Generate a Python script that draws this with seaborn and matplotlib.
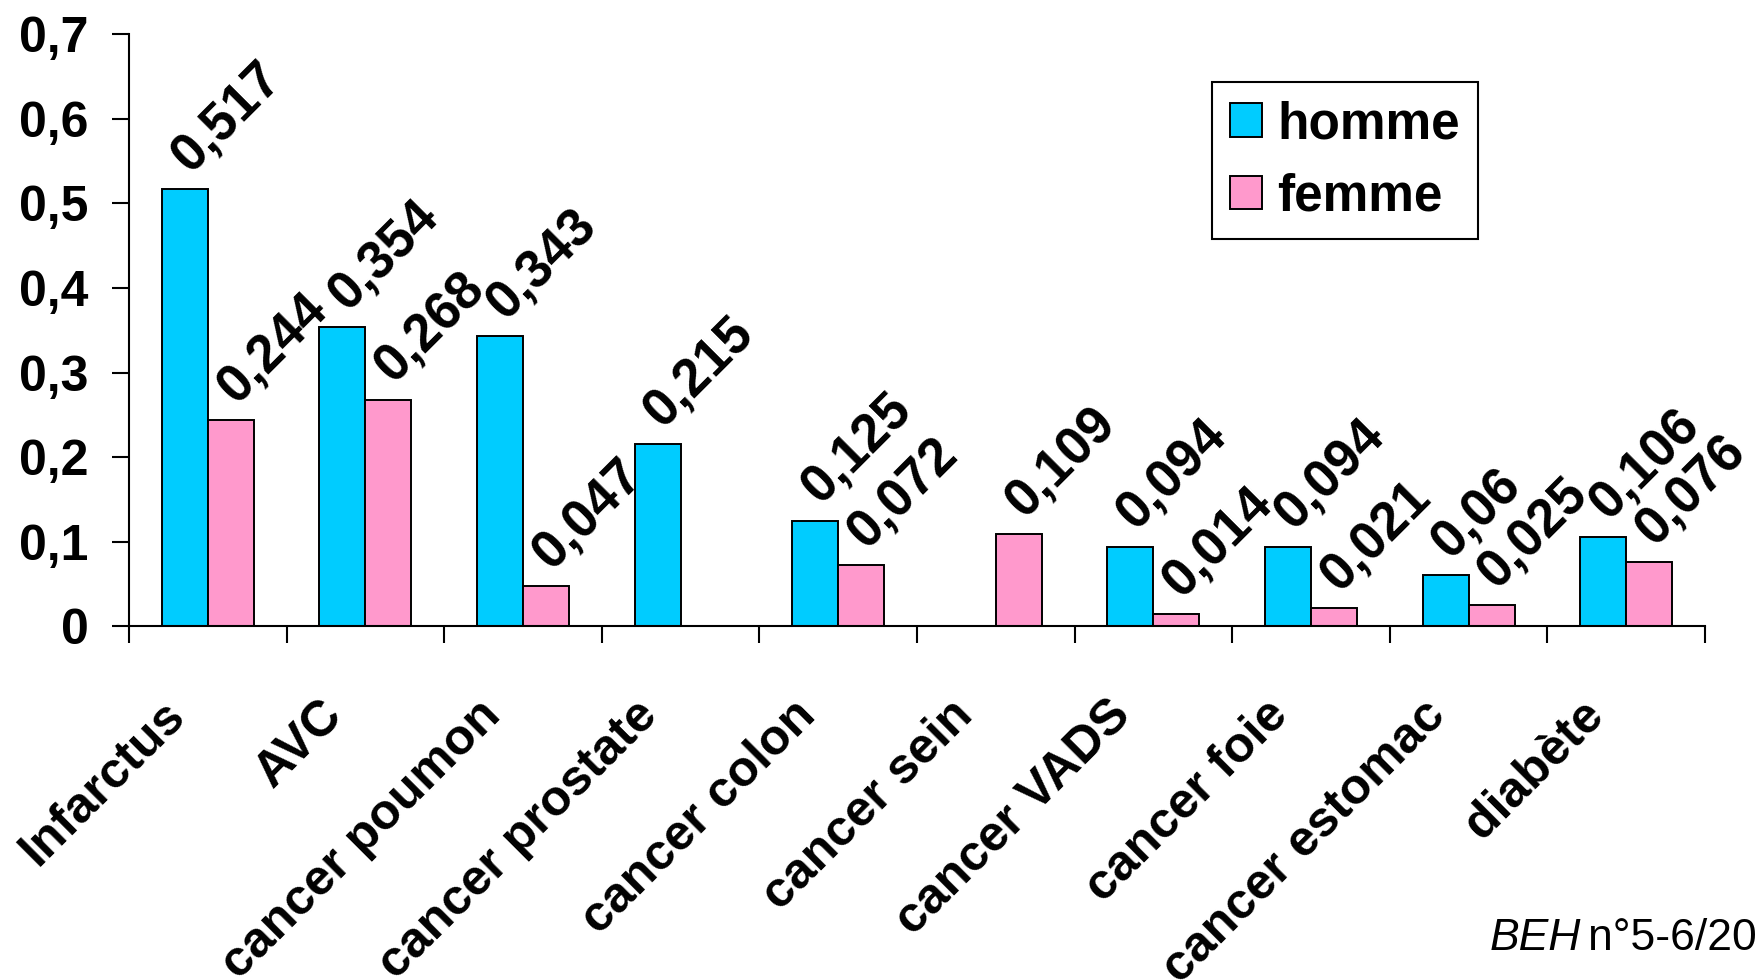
import pandas as pd
import seaborn as sns
import matplotlib.pyplot as plt
import matplotlib.transforms as mtransforms

# data
causes = ["Infarctus", "AVC", "cancer poumon", "cancer prostate", "cancer colon",
          "cancer sein", "cancer VADS", "cancer foie", "cancer estomac", "diabète"]
homme = [0.517, 0.354, 0.343, 0.215, 0.125, None, 0.094, 0.094, 0.06, 0.106]
femme = [0.244, 0.268, 0.047, None, 0.072, 0.109, 0.014, 0.021, 0.025, 0.076]
sexes = ["homme", "femme"]
couleurs = {"homme": "#00CCFF", "femme": "#FF99CC"}
y_ticks = [0, 0.1, 0.2, 0.3, 0.4, 0.5, 0.6, 0.7]

df = pd.DataFrame({
    "cause": causes * 2,
    "sexe": ["homme"] * len(causes) + ["femme"] * len(causes),
    "valeur": homme + femme,
})
df["valeur"] = df["valeur"].astype(float)

sns.set_style("ticks")
plt.rcParams["font.family"] = ["Liberation Sans", "DejaVu Sans"]
plt.rcParams["font.weight"] = "bold"
plt.rcParams["text.color"] = "black"
plt.rcParams["xtick.color"] = "black"
plt.rcParams["ytick.color"] = "black"

fig = plt.figure(figsize=(17.56, 9.8), dpi=100)
ax = fig.add_axes([0.0735, 0.361, 0.8975, 0.604])

sns.barplot(
    data=df,
    x="cause",
    y="valeur",
    hue="sexe",
    order=causes,
    hue_order=sexes,
    palette=couleurs,
    saturation=1,
    width=0.584,
    edgecolor="black",
    linewidth=1.4,
    errorbar=None,
    ax=ax,
)

# value labels, rotated like the original
for cont in ax.containers:
    for bar in cont:
        h = bar.get_height()
        if h != h or h == 0:
            continue
        txt = ("%g" % h).replace(".", ",")
        ax.annotate(
            txt,
            (bar.get_x() + bar.get_width() / 2, h),
            xytext=(4, 11),
            textcoords="offset points",
            rotation=45,
            rotation_mode="anchor",
            ha="left",
            va="baseline",
            fontsize=38,
            fontweight="bold",
            color="black",
        )

ax.set_ylim(0, 0.7)
ax.set_xlim(-0.5, len(causes) - 0.5)
ax.set_yticks(y_ticks)
ax.set_yticklabels(["0"] + [("%g" % t).replace(".", ",") for t in y_ticks[1:]],
                   fontsize=36, fontweight="bold")
ax.tick_params(axis="y", direction="out", length=12, width=1.5, pad=17,
               color="black", labelcolor="black")

ax.set_xticks(range(len(causes)))
ax.set_xticklabels(causes, rotation=45, ha="right", va="center",
                   rotation_mode="anchor", fontsize=36, fontweight="bold")
ax.tick_params(axis="x", which="major", length=0, pad=59, labelcolor="black")
ax.set_xticks([i - 0.5 for i in range(len(causes) + 1)], minor=True)
ax.tick_params(axis="x", which="minor", direction="out", length=12, width=1.5, color="black")
shift = mtransforms.ScaledTranslation(-0.30, 0, fig.dpi_scale_trans)
for lab in ax.get_xticklabels():
    lab.set_transform(lab.get_transform() + shift)

ax.set_xlabel("")
ax.set_ylabel("")
sns.despine(ax=ax)
for s in ["left", "bottom"]:
    ax.spines[s].set_linewidth(1.5)
    ax.spines[s].set_color("black")

leg = ax.legend(
    loc="upper left",
    bbox_to_anchor=(0.687, 0.919),
    borderaxespad=0,
    fontsize=37,
    handlelength=0.62,
    handleheight=0.62,
    handletextpad=0.3,
    labelspacing=0.45,
    borderpad=0.35,
    fancybox=False,
    framealpha=1,
    edgecolor="black",
)
leg.get_frame().set_linewidth(1.5)
for t in leg.get_texts():
    t.set_fontweight("bold")
    t.set_color("black")

fig.text(1490 / 1756, 1 - 950 / 980, "BEH", fontsize=32, style="italic",
         fontweight="normal", ha="left", va="baseline", color="black")
fig.text(1588 / 1756, 1 - 950 / 980, "n°5-6/2008", fontsize=32,
         fontweight="normal", ha="left", va="baseline", color="black")

fig.savefig("out.png", dpi=100)
